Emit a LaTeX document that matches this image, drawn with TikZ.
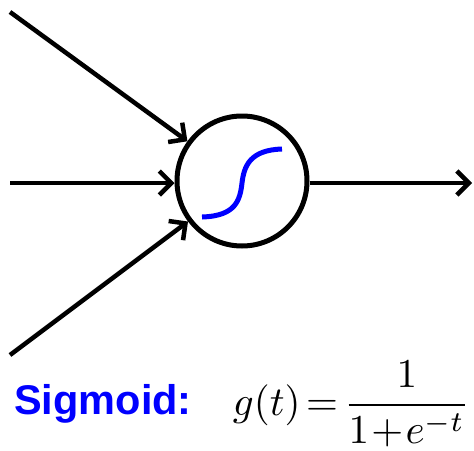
\documentclass[tikz,border=0pt]{standalone}
\usepackage{amsmath}
\usepackage{fontspec}
\setsansfont{Liberation Sans}
\usetikzlibrary{arrows.meta}
\definecolor{SigBlue}{RGB}{0, 0, 255}
\tikzset{
  link/.style={line width=4.5pt, -{Straight Barb[length=12pt, width=24pt, line width=4.5pt]}},
  unit/.style={circle, draw, line width=5pt, minimum size=130pt, inner sep=0pt}
}

\begin{document}
\begin{tikzpicture}[x=1pt, y=-1pt]
  \useasboundingbox (0,0) rectangle (474,450);
  % neuron and its inputs
  \node[unit] (neuron) at (242,181) {};
  \coordinate (in1) at (10,12);
  \coordinate (in2) at (10,183);
  \coordinate (in3) at (10,355);
  \coordinate (out) at (472,183);
  \draw[link] (in1) -- (neuron);
  \draw[link] (in2) -- (in2 -| neuron.west);
  \draw[link] (in3) -- (neuron);
  \draw[link] (neuron.east |- out) -- (out);
  % activation curve
  \draw[SigBlue, line width=5pt] (202,217) .. controls (236,216) and (240,200) .. (242,183)
    .. controls (244,166) and (250,150) .. (282,149);
  % label and formula
  \node[anchor=base west, inner sep=0pt, text=SigBlue, font=\sffamily\bfseries\fontsize{41.5}{48}\selectfont]
    (label) at (14,414) {Sigmoid:};
  \node[anchor=base west, inner sep=0pt, scale=4.1]
    (formula) at (232,415) {\thickmuskip=2.5mu \medmuskip=1mu $g(t)=\dfrac{1}{1+e^{-t}}$};
\end{tikzpicture}
\end{document}
